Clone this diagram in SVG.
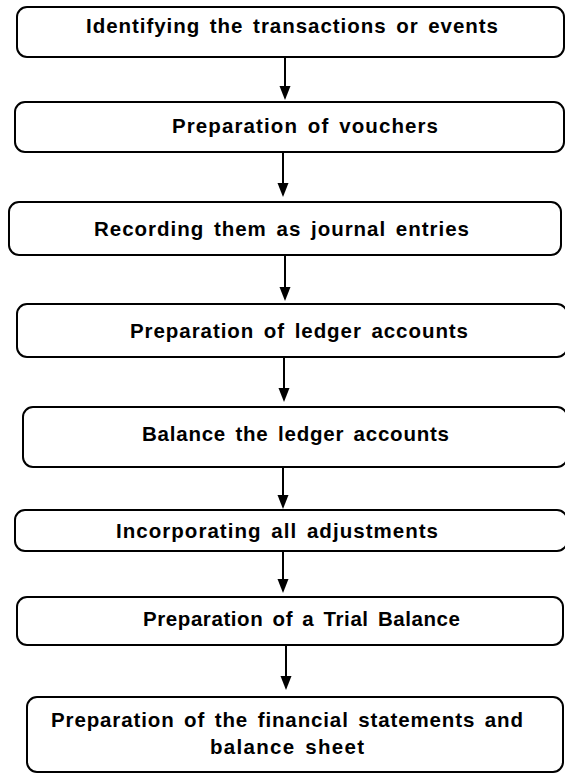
<svg xmlns="http://www.w3.org/2000/svg" width="565" height="774" viewBox="0 0 565 774">
  <style>
    .box { fill: #ffffff; stroke: #000000; stroke-width: 2; }
    .lbl { font-family: "Liberation Sans", Arial, sans-serif; font-weight: bold; font-size: 20.5px; fill: #000000; word-spacing: 3px; }
    .edge { stroke: #000000; stroke-width: 2; fill: none; marker-end: url(#head); }
  </style>
  <defs>
    <!-- filled arrowhead; the line stops 4px short of the tip -->
    <marker id="head" markerUnits="userSpaceOnUse" markerWidth="14" markerHeight="12" refX="10" refY="6" orient="auto" viewBox="0 0 14 12">
      <path d="M0,0.5 L14,6 L0,11.5 Z" fill="#000000"/>
    </marker>
  </defs>
  <rect width="565" height="774" fill="#ffffff"/>

  <!-- connectors -->
  <g id="connectors">
    <line class="edge" x1="285" y1="57" x2="285" y2="96"/>
    <line class="edge" x1="283" y1="152" x2="283" y2="193"/>
    <line class="edge" x1="285" y1="255" x2="285" y2="297"/>
    <line class="edge" x1="284" y1="357" x2="284" y2="398"/>
    <line class="edge" x1="283" y1="467" x2="283" y2="505"/>
    <line class="edge" x1="283" y1="551" x2="283" y2="589"/>
    <line class="edge" x1="286" y1="645" x2="286" y2="686"/>
  </g>

  <!-- process steps -->
  <g id="step1">
    <rect class="box" x="17" y="7" width="547" height="50" rx="10"/>
    <text class="lbl" x="86" y="33" textLength="412" lengthAdjust="spacing">Identifying the transactions or events</text>
  </g>
  <g id="step2">
    <rect class="box" x="15" y="102" width="549" height="50" rx="10"/>
    <text class="lbl" x="172" y="133" textLength="266" lengthAdjust="spacing">Preparation of vouchers</text>
  </g>
  <g id="step3">
    <rect class="box" x="9" y="202" width="552" height="53" rx="10"/>
    <text class="lbl" x="94" y="236" textLength="375" lengthAdjust="spacing">Recording them as journal entries</text>
  </g>
  <g id="step4">
    <rect class="box" x="17" y="304" width="550" height="53" rx="10"/>
    <text class="lbl" x="130" y="338" textLength="338" lengthAdjust="spacing">Preparation of ledger accounts</text>
  </g>
  <g id="step5">
    <rect class="box" x="23" y="407" width="544" height="60" rx="10"/>
    <text class="lbl" x="142" y="441" textLength="307" lengthAdjust="spacing">Balance the ledger accounts</text>
  </g>
  <g id="step6">
    <rect class="box" x="15" y="510" width="552" height="41" rx="10"/>
    <text class="lbl" x="116" y="538" textLength="322" lengthAdjust="spacing">Incorporating all adjustments</text>
  </g>
  <g id="step7">
    <rect class="box" x="17" y="597" width="546" height="48" rx="10"/>
    <text class="lbl" x="143" y="626" textLength="317" lengthAdjust="spacing">Preparation of a Trial Balance</text>
  </g>
  <g id="step8">
    <rect class="box" x="27" y="697" width="536" height="75" rx="10"/>
    <text class="lbl" x="51" y="727" textLength="472" lengthAdjust="spacing">Preparation of the financial statements and</text>
    <text class="lbl" x="210" y="754" textLength="154" lengthAdjust="spacing">balance sheet</text>
  </g>
</svg>
